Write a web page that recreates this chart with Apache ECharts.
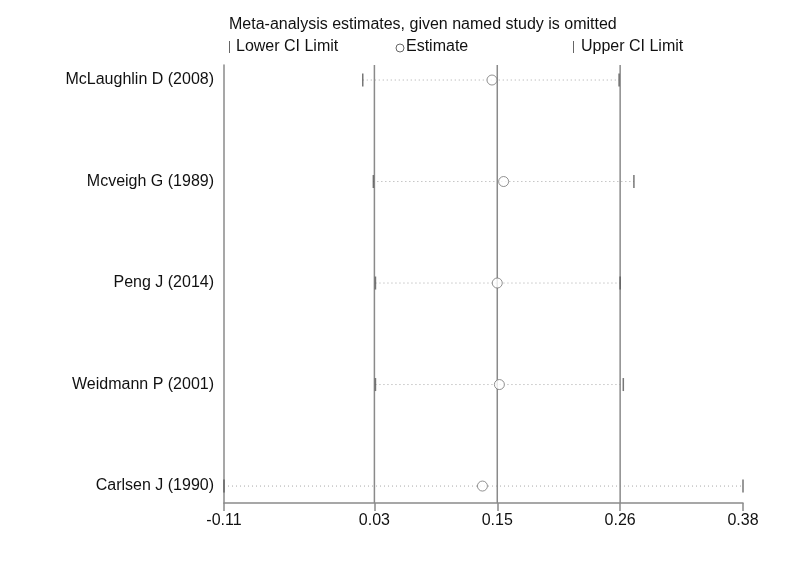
<!DOCTYPE html>
<html>
<head>
<meta charset="utf-8">
<script src="https://cdn.jsdelivr.net/npm/echarts@6/dist/echarts.min.js"></script>
<style>
html,body{margin:0;padding:0;background:#fff;}
#chart{width:800px;height:577px;}
</style>
</head>
<body>
<div id="chart"></div>
<script>
// Data
const studies = ['McLaughlin D (2008)', 'Mcveigh G (1989)', 'Peng J (2014)', 'Weidmann P (2001)', 'Carlsen J (1990)'];
const lowerCI = [0.021, 0.031, 0.033, 0.033, -0.11];
const estimate = [0.143, 0.154, 0.148, 0.150, 0.134];
const upperCI = [0.263, 0.277, 0.264, 0.267, 0.38];
const tickValues = [-0.11, 0.032, 0.148, 0.264, 0.38];
const refLines = [0.032, 0.148, 0.264];

const FONT = '"Liberation Sans", Arial, sans-serif';
const chart = echarts.init(document.getElementById('chart'), null, {renderer: 'canvas'});

const rows = studies.map((s, i) => i);
const Y_MIN = -0.148, Y_MAX = 4.167;

const option = {
  animation: false,
  backgroundColor: '#fff',
  grid: {left: 224, right: 57, top: 65, bottom: 74},
  xAxis: {
    type: 'value',
    position: 'bottom',
    min: -0.11,
    max: 0.38,
    axisLine: {show: true, onZero: false, lineStyle: {color: '#8a8a8a', width: 1.5}},
    axisTick: {show: true, customValues: tickValues, length: 8, lineStyle: {color: '#8a8a8a', width: 1.5}},
    axisLabel: {
      customValues: tickValues,
      formatter: v => v.toFixed(2),
      color: '#111', fontSize: 16, fontFamily: FONT, margin: 10,
      showMinLabel: true, showMaxLabel: true
    },
    splitLine: {show: false}
  },
  yAxis: {
    type: 'value',
    inverse: true,
    min: Y_MIN,
    max: Y_MAX,
    axisLine: {show: true, onZero: false, lineStyle: {color: '#8a8a8a', width: 1.5}},
    axisTick: {show: false},
    axisLabel: {
      customValues: rows,
      formatter: v => studies[Math.round(v)] || '',
      color: '#111', fontSize: 16, fontFamily: FONT, margin: 10
    },
    splitLine: {show: false}
  },
  graphic: [
    {type: 'text', left: 229, top: 17, style: {text: 'Meta-analysis estimates, given named study is omitted', fill: '#111', font: '16px ' + FONT}},
    {type: 'rect', shape: {x: 229, y: 41, width: 1, height: 12}, style: {fill: '#666'}},
    {type: 'text', left: 236, top: 39, style: {text: 'Lower CI Limit', fill: '#111', font: '16px ' + FONT}},
    {type: 'circle', shape: {cx: 400, cy: 48, r: 4}, style: {fill: '#fff', stroke: '#666', lineWidth: 1}},
    {type: 'text', left: 406, top: 39, style: {text: 'Estimate', fill: '#111', font: '16px ' + FONT}},
    {type: 'rect', shape: {x: 573, y: 41, width: 1, height: 12}, style: {fill: '#666'}},
    {type: 'text', left: 581, top: 39, style: {text: 'Upper CI Limit', fill: '#111', font: '16px ' + FONT}}
  ],
  series: [
    {
      type: 'custom',
      name: 'CI',
      renderItem: function (params, api) {
        const a = api.coord([api.value(0), api.value(2)]);
        const b = api.coord([api.value(1), api.value(2)]);
        return {
          type: 'line',
          shape: {x1: a[0], y1: a[1], x2: b[0], y2: b[1]},
          style: {stroke: '#a8a8a8', lineWidth: 1, lineDash: [1, 3]}
        };
      },
      encode: {x: [0, 1], y: 2},
      data: rows.map(i => [lowerCI[i], upperCI[i], i]),
      z: 1
    },
    {
      type: 'custom',
      name: 'ref',
      renderItem: function (params, api) {
        const a = api.coord([api.value(0), Y_MIN]);
        const b = api.coord([api.value(0), Y_MAX]);
        return {
          type: 'line',
          shape: {x1: a[0], y1: a[1], x2: b[0], y2: b[1]},
          style: {stroke: '#8a8a8a', lineWidth: 1.5}
        };
      },
      encode: {x: 0},
      data: refLines.map(v => [v]),
      z: 2
    },
    {
      type: 'scatter',
      name: 'Lower CI Limit',
      symbol: 'rect',
      symbolSize: [1.5, 13],
      itemStyle: {color: '#555'},
      data: rows.map(i => [lowerCI[i], i]),
      z: 3
    },
    {
      type: 'scatter',
      name: 'Upper CI Limit',
      symbol: 'rect',
      symbolSize: [1.5, 13],
      itemStyle: {color: '#555'},
      data: rows.map(i => [upperCI[i], i]),
      z: 3
    },
    {
      type: 'scatter',
      name: 'Estimate',
      symbol: 'circle',
      symbolSize: 10,
      itemStyle: {color: '#fff', borderColor: '#777', borderWidth: 1},
      data: rows.map(i => [estimate[i], i]),
      z: 4
    }
  ]
};
chart.setOption(option);
</script>
</body>
</html>
